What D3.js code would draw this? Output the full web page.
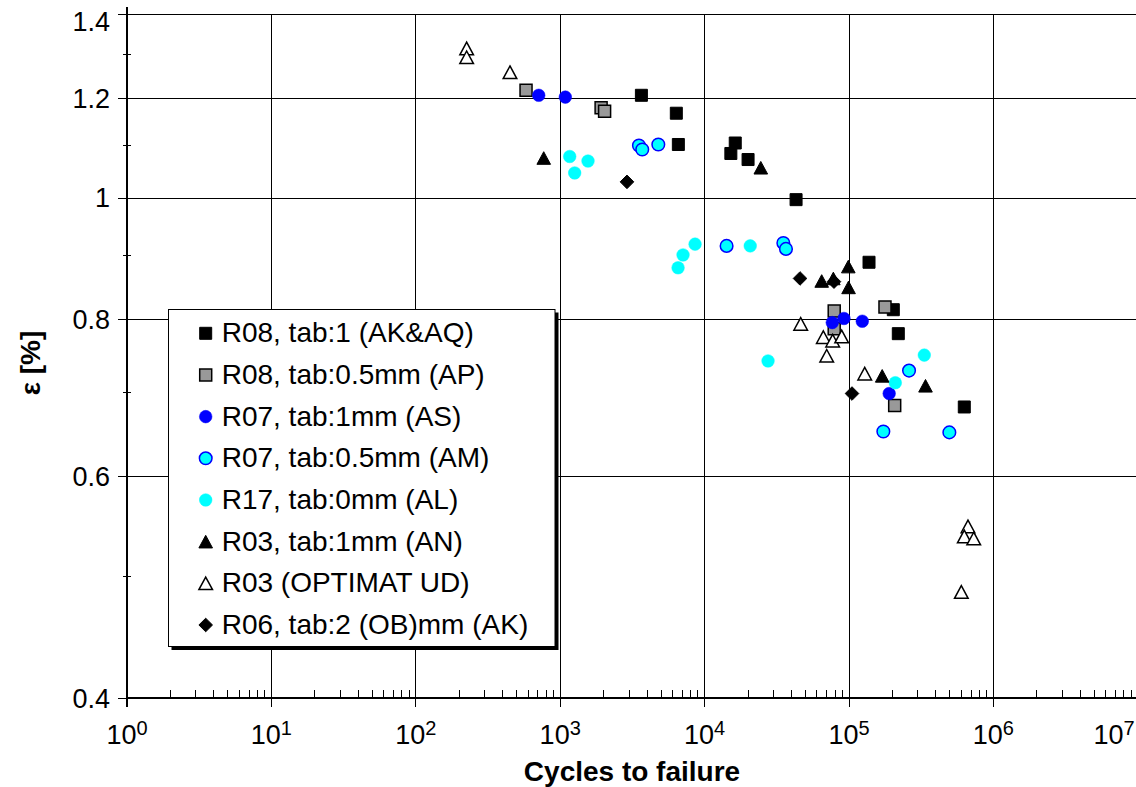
<!DOCTYPE html>
<html>
<head>
<meta charset="utf-8">
<script src="https://cdn.jsdelivr.net/npm/d3@7"></script>
<style>
  html, body { margin: 0; padding: 0; background: #fff; }
  svg { display: block; font-family: "Liberation Sans", Arial, sans-serif; }
</style>
</head>
<body>
<svg id="chart" width="1136" height="787"></svg>
<script>
// ---------- data (cycles to failure, strain %) ----------
const seriesLabels = [
  "R08, tab:1 (AK&AQ)",
  "R08, tab:0.5mm (AP)",
  "R07, tab:1mm (AS)",
  "R07, tab:0.5mm (AM)",
  "R17, tab:0mm (AL)",
  "R03, tab:1mm (AN)",
  "R03 (OPTIMAT UD)",
  "R06, tab:2 (OB)mm (AK)"
];
const r08Tab1 = [[3650,1.207],[6370,1.168],[6580,1.103],[16300,1.106],[15200,1.085],[20000,1.073],[43000,0.997],[137600,0.889],[202700,0.815],[219500,0.780],[628600,0.682]];
const r08Tab05 = [[580,1.218],[1920,1.180],[2030,1.172],[79000,0.813],[79000,0.787],[177500,0.819],[207200,0.684]];
const r07Tab1 = [[710,1.207],[1085,1.203],[76600,0.796],[92300,0.802],[123600,0.798],[189800,0.699]];
const r07Tab05 = [[3510,1.101],[3700,1.093],[4780,1.103],[14200,0.916],[35100,0.921],[36600,0.911],[260500,0.729],[172900,0.652],[495400,0.651]];
const r17Tab0 = [[1164,1.079],[1558,1.070],[1260,1.047],[8590,0.919],[7090,0.901],[6550,0.880],[20700,0.916],[27500,0.742],[332200,0.750],[209300,0.713]];
const r03Tab1 = [[769,1.076],[24500,1.057],[64700,0.859],[77900,0.863],[98900,0.882],[99300,0.849],[169800,0.722],[338700,0.709]];
const r03Optimat = [[225,1.315],[225,1.294],[449,1.259],[46300,0.794],[66400,0.775],[77100,0.770],[89000,0.776],[70100,0.749],[128500,0.725],[666800,0.548],[628600,0.538],[730800,0.536],[599600,0.486]];
const r06Tab2 = [[2900,1.030],[45800,0.863],[78700,0.858],[104900,0.699]];

const xTickExponents = [0,1,2,3,4,5,6,7];
const yTickValues = [0.4,0.6,0.8,1,1.2,1.4];
const yTickLabels = ["0.4","0.6","0.8","1","1.2","1.4"];
const yMinorValues = [0.5,0.7,0.9,1.1,1.3];
const xLabel = "Cycles to failure";
const yLabel = "ε [%]";

// ---------- styles ----------
const styles = [
  {shape:"square",  fill:"#000000", stroke:"#000000", sw:1},
  {shape:"square",  fill:"#999999", stroke:"#000000", sw:1.5},
  {shape:"circle",  fill:"#0000ff", stroke:"#0000ff", sw:0.5},
  {shape:"circle",  fill:"#00ffff", stroke:"#0000ff", sw:1.5},
  {shape:"circle",  fill:"#00ffff", stroke:"#00ffff", sw:0.5},
  {shape:"triangle",fill:"#000000", stroke:"#000000", sw:1},
  {shape:"triangle",fill:"#ffffff", stroke:"#000000", sw:1.5},
  {shape:"diamond", fill:"#000000", stroke:"#000000", sw:1}
];
const allSeries = [r08Tab1, r08Tab05, r07Tab1, r07Tab05, r17Tab0, r03Tab1, r03Optimat, r06Tab2];

function shapePath(shape) {
  switch (shape) {
    case "square": return "M-6,-6H6V6H-6Z";
    case "circle": { const r = 6.3; return `M${r},0A${r},${r} 0 1,1 ${-r},0A${r},${r} 0 1,1 ${r},0Z`; }
    case "triangle": return "M0,-6.3L6.8,6.3L-6.8,6.3Z";
    case "diamond": return "M0,-6.8L6.8,0L0,6.8L-6.8,0Z";
  }
}

// ---------- scales ----------
const svg = d3.select("#chart");
const x = d3.scaleLog().domain([1, 1e7]).range([127, 1137.8]);
const y = d3.scaleLog().domain([0.4, 1.4]).range([698.3, 14.3]);
const W = 1136;

// gridlines
const grid = svg.append("g").attr("stroke", "#000").attr("stroke-width", 1).attr("shape-rendering", "crispEdges");
grid.selectAll("line.v").data(xTickExponents.filter(e => e > 0))
  .join("line").attr("class", "v")
  .attr("x1", e => x(Math.pow(10, e))).attr("x2", e => x(Math.pow(10, e)))
  .attr("y1", y(1.4)).attr("y2", y(0.4));
grid.selectAll("line.h").data(yTickValues.filter(v => v > 0.4))
  .join("line").attr("class", "h")
  .attr("x1", x(1)).attr("x2", W)
  .attr("y1", v => y(v)).attr("y2", v => y(v));

// axes lines
const ax = svg.append("g").attr("stroke", "#000").attr("shape-rendering", "crispEdges");
ax.append("line").attr("stroke-width", 2).attr("x1", x(1)).attr("x2", x(1)).attr("y1", 6.5).attr("y2", y(0.4) + 9);
ax.append("line").attr("stroke-width", 2).attr("x1", x(1)).attr("x2", W).attr("y1", y(0.4)).attr("y2", y(0.4));

// y major ticks
ax.selectAll("line.ym").data(yTickValues).join("line").attr("class", "ym").attr("stroke-width", 1)
  .attr("x1", x(1) - 9).attr("x2", x(1) + 8)
  .attr("y1", v => y(v)).attr("y2", v => y(v));
// y minor ticks
ax.selectAll("line.yn").data(yMinorValues).join("line").attr("class", "yn").attr("stroke-width", 1)
  .attr("x1", x(1) - 4).attr("x2", x(1) + 4)
  .attr("y1", v => y(v)).attr("y2", v => y(v));
// x major ticks
ax.selectAll("line.xm").data(xTickExponents.filter(e => e < 7)).join("line").attr("class", "xm").attr("stroke-width", 1)
  .attr("x1", e => x(Math.pow(10, e))).attr("x2", e => x(Math.pow(10, e)))
  .attr("y1", y(0.4) - 8).attr("y2", y(0.4) + 9);
// x minor ticks
const minorX = [];
xTickExponents.slice(0, -1).forEach(e => { for (let k = 2; k <= 9; k++) minorX.push(k * Math.pow(10, e)); });
ax.selectAll("line.xn").data(minorX.filter(v => x(v) < W)).join("line").attr("class", "xn").attr("stroke-width", 1)
  .attr("x1", v => x(v)).attr("x2", v => x(v))
  .attr("y1", y(0.4) - 8).attr("y2", y(0.4));

// y tick labels
svg.append("g").selectAll("text").data(yTickValues).join("text")
  .attr("x", 110).attr("y", v => Math.max(y(v), 22))
  .attr("dy", "0.35em").attr("text-anchor", "end")
  .attr("font-size", 27).text((v, i) => yTickLabels[i]);

// x tick labels 10^n (kept inside the picture at the right edge)
const xl = svg.append("g").selectAll("text").data(xTickExponents).join("text")
  .attr("x", e => Math.min(x(Math.pow(10, e)), W - 22)).attr("y", 744)
  .attr("text-anchor", "middle").attr("font-size", 27);
xl.append("tspan").text("10");
xl.append("tspan").attr("font-size", 20).attr("dy", -9).text(e => String(e));

// axis titles
svg.append("text").attr("x", 632).attr("y", 781).attr("text-anchor", "middle")
  .attr("font-size", 28).attr("font-weight", "bold").text(xLabel);
svg.append("text").attr("transform", "translate(40,363) rotate(-90)").attr("text-anchor", "middle")
  .attr("font-size", 28).attr("font-weight", "bold").text(yLabel);

// legend
const lg = svg.append("g");
lg.append("rect").attr("x", 171.5).attr("y", 312.5).attr("width", 387).attr("height", 337.5).attr("fill", "#000");
lg.append("rect").attr("x", 168.5).attr("y", 309.5).attr("width", 386.5).attr("height", 337).attr("fill", "#fff")
  .attr("stroke", "#000").attr("stroke-width", 1);
const rows = lg.selectAll("g.row").data(seriesLabels).join("g").attr("class", "row")
  .attr("transform", (d, i) => `translate(205.7,${333.3 + i * 41.67})`);
rows.append("path").attr("d", (d, i) => shapePath(styles[i].shape))
  .attr("fill", (d, i) => styles[i].fill).attr("stroke", (d, i) => styles[i].stroke)
  .attr("stroke-width", (d, i) => styles[i].sw);
rows.append("text").attr("x", 16).attr("y", 9).attr("font-size", 28).text(d => d);

// data points
allSeries.forEach((data, i) => {
  const st = styles[i];
  svg.append("g").selectAll("path").data(data).join("path")
    .attr("transform", d => `translate(${x(d[0])},${y(d[1])})`)
    .attr("d", shapePath(st.shape))
    .attr("fill", st.fill).attr("stroke", st.stroke).attr("stroke-width", st.sw);
});
</script>
</body>
</html>
